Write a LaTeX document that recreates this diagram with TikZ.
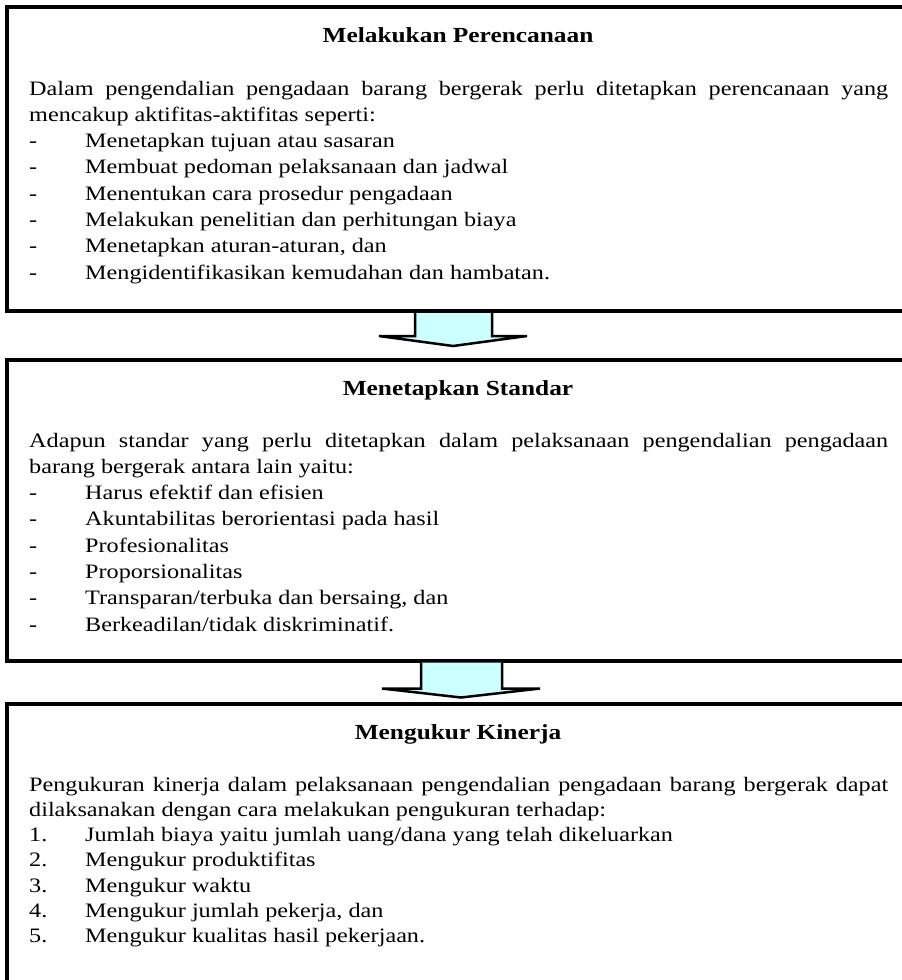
\documentclass[tikz,border=0pt]{standalone}
\usepackage{fontspec}
\setmainfont{Liberation Serif}[FakeStretch=1.18]
\usetikzlibrary{calc}
\definecolor{arrowfill}{HTML}{CCFFFF}
\newcommand{\bodyfont}{\fontsize{20.5pt}{26pt}\selectfont}
\newcommand{\headfont}{\fontsize{21.5pt}{26pt}\selectfont\bfseries}

\begin{document}
\begin{tikzpicture}[x=1pt,y=-1pt,
   every node/.style={inner sep=0pt,font=\bodyfont},
   stagebox/.style={draw,line width=4pt,minimum width=908pt,anchor=north west},
   headline/.style={anchor=base,font=\headfont},
   bodyline/.style={anchor=base west},
   flowarrow/.style={draw,line width=2.5pt,fill=arrowfill,line join=miter}]

\useasboundingbox (0,0) rectangle (902,980);
\clip (0,0) rectangle (902,980);

% the three stages
\node[stagebox,minimum height=304.5pt] (plan) at (5,4.5) {};
\node[stagebox,minimum height=301pt] (standard) at (5,357.5) {};
\node[stagebox,minimum height=400pt] (measure) at (5,702) {};

% stage 1
\node[headline] (plan-title) at (458,42) {Melakukan Perencanaan};
\node[bodyline] (plan-l1) at (29,95)
   {\makebox[859pt][s]{Dalam pengendalian pengadaan barang bergerak perlu ditetapkan perencanaan yang}};
\node[bodyline] (plan-l2) at (29,121.3) {mencakup aktifitas-aktifitas seperti:};
\foreach \txt [count=\k] in {Menetapkan tujuan atau sasaran,
   Membuat pedoman pelaksanaan dan jadwal,
   Menentukan cara prosedur pengadaan,
   Melakukan penelitian dan perhitungan biaya,
   {Menetapkan aturan-aturan, dan},
   Mengidentifikasikan kemudahan dan hambatan.}{
   \node[bodyline] (plan-d\k) at (29,{147.6+26.3*(\k-1)}) {-};
   \node[bodyline] (plan-i\k) at (85,{147.6+26.3*(\k-1)}) {\txt};
}

% stage 2
\node[headline] (standard-title) at (458,395) {Menetapkan Standar};
\node[bodyline] (standard-l1) at (29,447)
   {\makebox[859pt][s]{Adapun standar yang perlu ditetapkan dalam pelaksanaan pengendalian pengadaan}};
\node[bodyline] (standard-l2) at (29,473.3) {barang bergerak antara lain yaitu:};
\foreach \txt [count=\k] in {Harus efektif dan efisien,
   Akuntabilitas berorientasi pada hasil,
   Profesionalitas,
   Proporsionalitas,
   {Transparan/terbuka dan bersaing, dan},
   Berkeadilan/tidak diskriminatif.}{
   \node[bodyline] (standard-d\k) at (29,{499.6+26.3*(\k-1)}) {-};
   \node[bodyline] (standard-i\k) at (85,{499.6+26.3*(\k-1)}) {\txt};
}

% stage 3
\node[headline] (measure-title) at (458,739.5) {Mengukur Kinerja};
\node[bodyline] (measure-l1) at (29,791)
   {\makebox[859pt][s]{Pengukuran kinerja dalam pelaksanaan pengendalian pengadaan barang bergerak dapat}};
\node[bodyline] (measure-l2) at (29,816.3) {dilaksanakan dengan cara melakukan pengukuran terhadap:};
\foreach \txt [count=\k] in {Jumlah biaya yaitu jumlah uang/dana yang telah dikeluarkan,
   Mengukur produktifitas,
   Mengukur waktu,
   {Mengukur jumlah pekerja, dan},
   Mengukur kualitas hasil pekerjaan.}{
   \node[bodyline] (measure-n\k) at (29,{841.6+25.3*(\k-1)}) {\k.};
   \node[bodyline] (measure-i\k) at (85,{841.6+25.3*(\k-1)}) {\txt};
}

% block arrows between the stages
\draw[flowarrow] ($(plan.south west)+(410,0)$) -- ++(0,23) -- ++(-36,0)
   -- ++(74,10) -- ++(74,-10) -- ++(-35,0) -- ++(0,-23);
\draw[flowarrow] ($(standard.south west)+(416,0)$) -- ++(0,26) -- ++(-39,0)
   -- ++(79,9) -- ++(79,-9) -- ++(-38,0) -- ++(0,-26);

\end{tikzpicture}
\end{document}
